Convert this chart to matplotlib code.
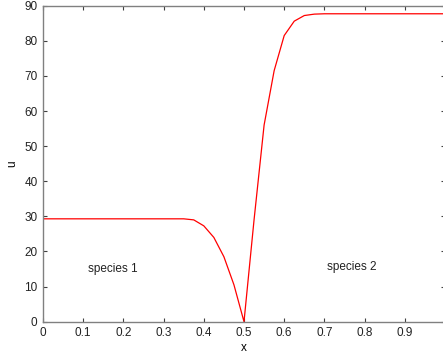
"""Two-species profile u(x) in the old MATLAB figure look."""

import matplotlib

matplotlib.use("Agg")
import matplotlib.pyplot as plt
import numpy as np

x = np.round(np.arange(0, 1.0001, 0.025), 3)
u_left = [29.3] * 15 + [29.0, 27.3, 24.0, 18.5, 10.5, 0.0]
u_right = [29.0, 56.0, 71.5, 81.5, 85.6, 87.2, 87.6] + [87.7] * 13
u = np.array(u_left + u_right)

label_1 = "species 1"
label_2 = "species 2"

plt.rcParams["font.family"] = ["Liberation Sans", "DejaVu Sans"]
plt.rcParams["font.size"] = 8.5

fig = plt.figure(figsize=(4.43, 3.55), dpi=100)
ax = fig.add_axes([43 / 443, 33.3 / 355, 402 / 443, 316 / 355])
ax.plot(x, u, color="red", lw=0.9)
ax.text(0.112, 14.9, label_1, ha="left", va="center", color="#222222")
ax.text(0.706, 15.6, label_2, ha="left", va="center", color="#222222")

ax.set_xlim(0, 1)
ax.set_ylim(0, 90)
ax.set_xticks(np.arange(0, 1.0, 0.1))
ax.set_xticklabels(["0"] + [f"{v:.1f}" for v in np.arange(0.1, 0.95, 0.1)])
ax.set_yticks(np.arange(0, 91, 10))
ax.set_xlabel("x", labelpad=2)
ax.set_ylabel("u", labelpad=4)
for spine in ax.spines.values():
    spine.set_color("#808080")
    spine.set_linewidth(1.0)
ax.tick_params(direction="in", length=3, width=0.8, color="#404040",
               top=True, right=True, labelcolor="#222222", pad=4)

fig.savefig("out.png", dpi=100, facecolor="white")
